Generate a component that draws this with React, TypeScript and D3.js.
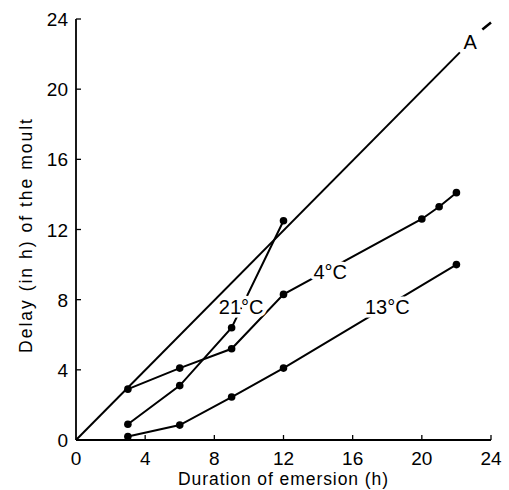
import React from "react";
import * as d3 from "d3";

const xTicks = [0, 4, 8, 12, 16, 20, 24];
const yTicks = [0, 4, 8, 12, 16, 20, 24];

const lineA_x = [0, 22.2];
const lineA_y = [0, 22.1];
const lineA_tail_x = [23.5, 24.0];
const lineA_tail_y = [23.4, 23.8];

const s4_x = [3, 6, 9, 12, 20, 21, 22];
const s4_y = [2.9, 4.1, 5.2, 8.3, 12.6, 13.3, 14.1];

const s21_x = [3, 6, 9, 12];
const s21_y = [0.9, 3.1, 6.4, 12.5];

const s13_x = [3, 6, 9, 12, 22];
const s13_y = [0.2, 0.85, 2.45, 4.1, 10.0];

const labels = [
  { text: "21°C", x: 9.55, y: 7.6 },
  { text: "4°C", x: 14.7, y: 9.6 },
  { text: "13°C", x: 18.0, y: 7.6 },
  { text: "A", x: 22.8, y: 22.7 },
];

export default function App() {
  const W = 509, H = 490;
  const x = d3.scaleLinear().domain([0, 24]).range([76, 491]);
  const y = d3.scaleLinear().domain([0, 24]).range([440, 19]);
  const line = d3.line<[number, number]>().x((d) => x(d[0])).y((d) => y(d[1]));
  const zip = (a: number[], b: number[]) => a.map((v, i) => [v, b[i]] as [number, number]);
  const font = "'Liberation Sans', Arial, sans-serif";
  const series = [zip(s4_x, s4_y), zip(s21_x, s21_y), zip(s13_x, s13_y)];
  return (
    <svg width={W} height={H} style={{ position: "absolute", left: 0, top: 0, background: "#fff" }}>
      <rect width={W} height={H} fill="#fff" />
      {/* axes */}
      <line x1={x(0)} x2={x(24)} y1={y(0)} y2={y(0)} stroke="#000" strokeWidth={1.8} />
      <line x1={x(0)} x2={x(0)} y1={y(0)} y2={y(24)} stroke="#000" strokeWidth={1.8} />
      {xTicks.slice(1).map((t) => (
        <line key={"xt" + t} x1={x(t)} x2={x(t)} y1={y(0)} y2={y(0) - 5} stroke="#000" strokeWidth={1.3} />
      ))}
      {yTicks.slice(1).map((t) => (
        <line key={"yt" + t} x1={x(0)} x2={x(0) + 5} y1={y(t)} y2={y(t)} stroke="#000" strokeWidth={1.3} />
      ))}
      {xTicks.map((t) => (
        <text key={"xl" + t} x={x(t)} y={y(0) + 25} textAnchor="middle" fontFamily={font} fontSize={19} fill="#000">
          {t}
        </text>
      ))}
      {yTicks.map((t) => (
        <text key={"yl" + t} x={x(0) - 8} y={y(t) + 7} textAnchor="end" fontFamily={font} fontSize={19} fill="#000">
          {t}
        </text>
      ))}
      <text x={283} y={485} textAnchor="middle" fontFamily={font} fontSize={17.5} fill="#000" textLength={210} lengthAdjust="spacing">
        Duration of emersion (h)
      </text>
      <text
        transform={`translate(32,236) rotate(-90)`}
        textAnchor="middle"
        fontFamily={font}
        fontSize={17.5}
        fill="#000"
        textLength={234}
        lengthAdjust="spacing"
      >
        Delay (in h) of the moult
      </text>
      {/* line A */}
      <path d={line(zip(lineA_x, lineA_y)) || ""} fill="none" stroke="#000" strokeWidth={2} />
      <path d={line(zip(lineA_tail_x, lineA_tail_y)) || ""} fill="none" stroke="#000" strokeWidth={2.5} />
      {series.map((s, i) => (
        <path key={"s" + i} d={line(s) || ""} fill="none" stroke="#000" strokeWidth={2} />
      ))}
      {series.map((s, i) =>
        s.map((p, j) => <circle key={`c${i}-${j}`} cx={x(p[0])} cy={y(p[1])} r={3.8} fill="#000" />)
      )}
      {labels.map((l) => (
        <text
          key={l.text}
          x={x(l.x)}
          y={y(l.y)}
          textAnchor="middle"
          dominantBaseline="central"
          fontFamily={font}
          fontSize={20}
          fill="#000"
          stroke="#fff"
          strokeWidth={7}
          paintOrder="stroke"
          strokeLinejoin="round"
        >
          {l.text}
        </text>
      ))}
    </svg>
  );
}
